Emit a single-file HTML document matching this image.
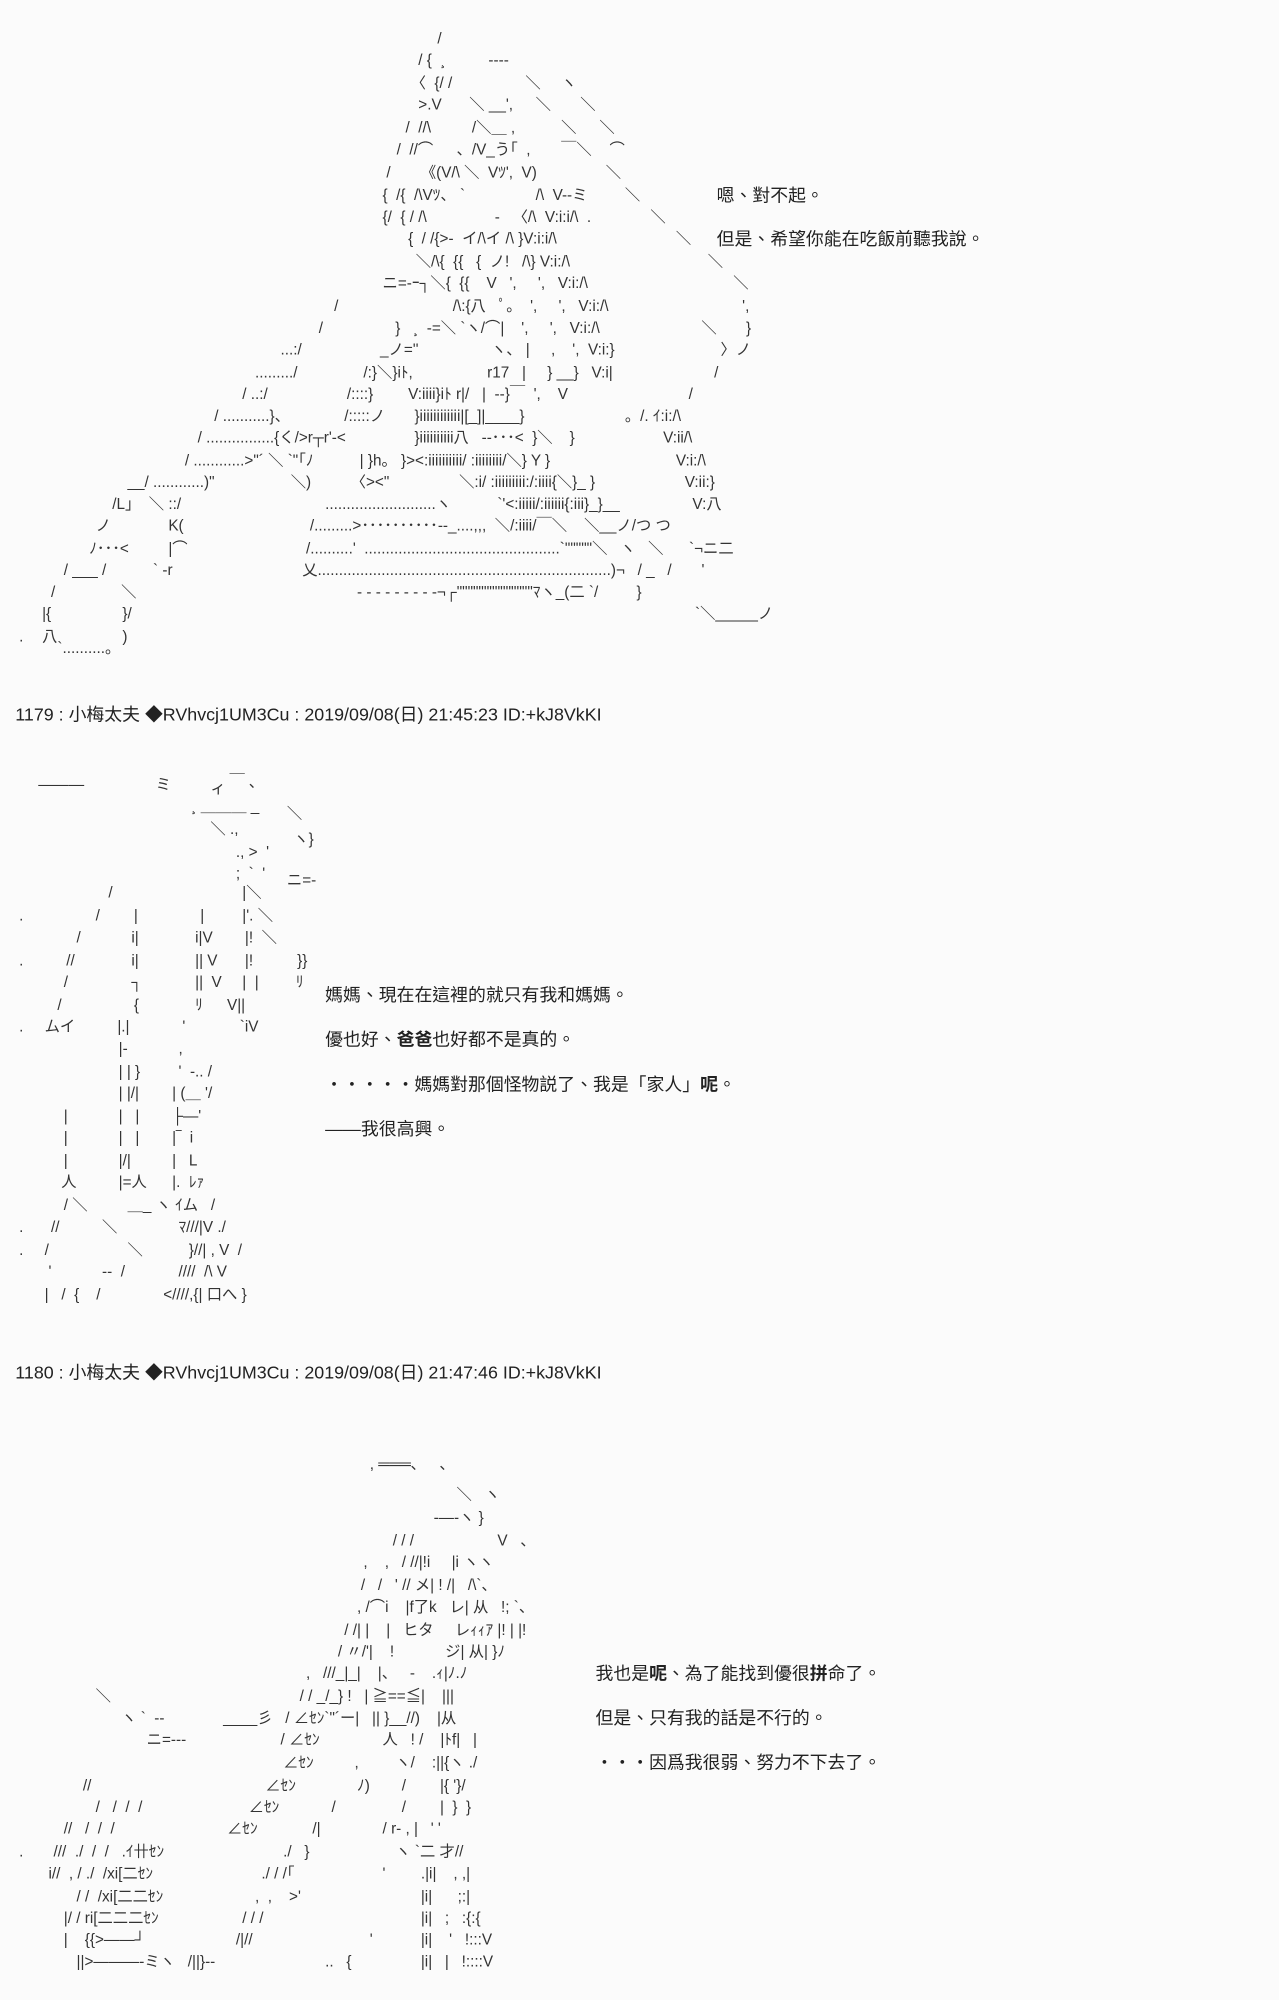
<!DOCTYPE html>
<html><head><meta charset="utf-8">
<style>
html,body{margin:0;padding:0;background:#fbfbfb;}
#w{position:relative;width:1003px;height:1568px;transform:scale(1.2752);transform-origin:0 0;overflow:hidden;}
#w i{position:absolute;font-style:normal;white-space:pre;font-family:"Liberation Sans","Noto Sans CJK JP",sans-serif;font-size:12px;line-height:16px;color:#333;}
#w b{position:absolute;font-weight:normal;white-space:pre;font-family:"Liberation Sans","Noto Sans CJK TC",sans-serif;font-size:14px;line-height:18px;color:#222;}
</style></head><body><div id="w">
<i style="left:343px;top:22px">/</i>
<i style="left:328px;top:39px">/ {  ¸</i><i style="left:383px;top:39px">----</i>
<i style="left:322px;top:57px">〈  {/ /</i><i style="left:412px;top:57px">＼</i><i style="left:440px;top:57px">ヽ</i>
<i style="left:328px;top:74px">&gt;.V</i><i style="left:368px;top:74px">＼ __',</i><i style="left:420px;top:74px">＼</i><i style="left:455px;top:74px">＼</i>
<i style="left:318px;top:92px">/  //\</i><i style="left:370px;top:92px">/＼＿ ,</i><i style="left:440px;top:92px">＼</i><i style="left:470px;top:92px">＼</i>
<i style="left:311px;top:109px">/  //⌒</i><i style="left:358px;top:109px">、/V_う｢  ,</i><i style="left:440px;top:109px">￣＼</i><i style="left:478px;top:109px">⌒</i>
<i style="left:303px;top:127px">/</i><i style="left:330px;top:127px">《(V/\ ＼  Vﾂ',  V)</i><i style="left:475px;top:127px">＼</i>
<i style="left:300px;top:145px">{  /{  /\Vﾂ、 `</i><i style="left:420px;top:145px">/\  V--ミ</i><i style="left:490px;top:145px">＼</i>
<i style="left:300px;top:162px">{/  { / /\</i><i style="left:388px;top:162px">-   〈/\  V:i:i/\  .</i><i style="left:510px;top:162px">＼</i>
<i style="left:320px;top:179px">{  / /{&gt;-  イ/\イ /\ }V:i:i/\</i><i style="left:530px;top:179px">＼</i>
<i style="left:326px;top:197px">＼/\{  {{   {  ノ!   /\} V:i:/\</i><i style="left:555px;top:197px">＼</i>
<i style="left:300px;top:214px">ニ=-ｰ┐＼{  {{    V   ',     ',   V:i:/\</i><i style="left:575px;top:214px">＼</i>
<i style="left:262px;top:232px">/</i><i style="left:355px;top:232px">/\:{八   ﾟ。  ',     ',   V:i:/\</i><i style="left:582px;top:232px">',</i>
<i style="left:250px;top:249px">/</i><i style="left:310px;top:249px">}   ¸  -=＼ `ヽ/⌒|    ',     ',   V:i:/\</i><i style="left:550px;top:249px">＼</i><i style="left:585px;top:249px">}</i>
<i style="left:220px;top:266px">...:/</i><i style="left:298px;top:266px">_ノ=''</i><i style="left:385px;top:266px">ヽ、 |     ,    ',  V:i:}</i><i style="left:565px;top:266px">〉ノ</i>
<i style="left:200px;top:284px">........./</i><i style="left:285px;top:284px">/:}＼}iﾄ,</i><i style="left:382px;top:284px">r17   |     } __}   V:i|</i><i style="left:560px;top:284px">/</i>
<i style="left:190px;top:301px">/ ..:/</i><i style="left:272px;top:301px">/::::}</i><i style="left:320px;top:301px">V:iiii}iﾄ r|/   |  --}￣  ',    V</i><i style="left:540px;top:301px">/</i>
<i style="left:168px;top:318px">/ ...........}、</i><i style="left:270px;top:318px">/:::::ノ</i><i style="left:325px;top:318px">}iiiiiiiiiiii|[_]|____}</i><i style="left:490px;top:318px">。/. ｲ:i:/\</i>
<i style="left:155px;top:335px">/ ................{く/&gt;r┬r'-&lt;</i><i style="left:325px;top:335px">}iiiiiiiiii八   --･･･&lt;  }＼    }</i><i style="left:520px;top:335px">V:ii/\</i>
<i style="left:145px;top:353px">/ ............&gt;"´ ＼ `"｢ﾉ</i><i style="left:282px;top:353px">| }h。 }&gt;&lt;:iiiiiiiiii/ :iiiiiiii/＼} Y }</i><i style="left:530px;top:353px">V:i:/\</i>
<i style="left:100px;top:370px">__/ ............)"</i><i style="left:228px;top:370px">＼)</i><i style="left:275px;top:370px">〈&gt;&lt;"</i><i style="left:360px;top:370px">＼:i/ :iiiiiiiii:/:iiii{＼}_ }</i><i style="left:537px;top:370px">V:ii:}</i>
<i style="left:88px;top:387px">/L」  ＼ ::/</i><i style="left:255px;top:387px">..........................ヽ</i><i style="left:390px;top:387px">`'&lt;:iiiii/:iiiiii{:iii}_}__</i><i style="left:543px;top:387px">V:八</i>
<i style="left:75px;top:404px">ノ</i><i style="left:132px;top:404px">K(</i><i style="left:243px;top:404px">/.........&gt;･･････････--_....,,,  ＼/:iiii/￣＼    ＼__ノ/つ つ</i>
<i style="left:70px;top:422px">ﾉ･･･&lt;</i><i style="left:132px;top:422px">|⌒</i><i style="left:240px;top:422px">/..........'  ..............................................`"""""＼   ヽ   ＼      `¬ニ二</i>
<i style="left:50px;top:439px">/ ___ /</i><i style="left:120px;top:439px">` -r</i><i style="left:237px;top:439px">乂.....................................................................)¬   / _   /       '</i>
<i style="left:40px;top:456px">/</i><i style="left:95px;top:456px">＼</i><i style="left:280px;top:456px">- - - - - - - - -¬┌""""""""""""""ﾏヽ_(二 `/         }</i>
<i style="left:33px;top:473px">|{</i><i style="left:96px;top:473px">}/</i><i style="left:545px;top:473px">`＼_____ノ</i>
<i style="left:15px;top:491px">.</i><i style="left:33px;top:491px">八</i><i style="left:96px;top:491px">)</i>
<i style="left:45px;top:500px">`..........。</i>
<b style="left:562px;top:144px">嗯、對不起。</b>
<b style="left:562px;top:178px">但是、希望你能在吃飯前聽我說。</b>
<b style="left:12px;top:551px">1179 : 小梅太夫 ◆RVhvcj1UM3Cu : 2019/09/08(日) 21:45:23 ID:+kJ8VkKI</b>

<i style="left:30px;top:607px">―――</i><i style="left:122px;top:607px">ミ</i><i style="left:165px;top:610px">ィ</i><i style="left:180px;top:605px">￣ ､</i>
<i style="left:150px;top:624px">¸ ＿＿＿ _</i><i style="left:225px;top:630px">＼</i>
<i style="left:165px;top:642px">＼ .,</i><i style="left:230px;top:650px">ヽ}</i>
<i style="left:185px;top:660px">., &gt;  '</i>
<i style="left:185px;top:677px">;  `  '</i><i style="left:225px;top:682px">ニ=-</i>
<i style="left:85px;top:692px">/</i><i style="left:190px;top:692px">|＼</i>
<i style="left:15px;top:710px">.</i><i style="left:75px;top:710px">/</i><i style="left:105px;top:710px">|</i><i style="left:157px;top:710px">|</i><i style="left:190px;top:710px">|'. ＼</i>
<i style="left:60px;top:727px">/</i><i style="left:103px;top:727px">i|</i><i style="left:153px;top:727px">i|V</i><i style="left:192px;top:727px">|!  ＼</i>
<i style="left:15px;top:745px">.</i><i style="left:52px;top:745px">//</i><i style="left:103px;top:745px">i|</i><i style="left:153px;top:745px">|| V</i><i style="left:192px;top:745px">|!</i><i style="left:233px;top:745px">}}</i>
<i style="left:50px;top:762px">/</i><i style="left:103px;top:762px">┐</i><i style="left:153px;top:762px">||  V</i><i style="left:190px;top:762px">|  |</i><i style="left:232px;top:762px">ﾘ</i>
<i style="left:45px;top:780px">/</i><i style="left:105px;top:780px">{</i><i style="left:153px;top:780px">ﾘ</i><i style="left:178px;top:780px">V||</i>
<i style="left:15px;top:797px">.</i><i style="left:35px;top:797px">ムイ</i><i style="left:92px;top:797px">|.|</i><i style="left:143px;top:797px">'</i><i style="left:188px;top:797px">`iV</i>
<i style="left:93px;top:814px">|‐</i><i style="left:140px;top:814px">,</i>
<i style="left:93px;top:832px">| | }</i><i style="left:140px;top:832px">'  -.. /</i>
<i style="left:93px;top:849px">| |/|</i><i style="left:135px;top:849px">| (＿ '/</i>
<i style="left:50px;top:867px">|</i><i style="left:93px;top:867px">|   |</i><i style="left:135px;top:867px">├―'</i>
<i style="left:50px;top:884px">|</i><i style="left:93px;top:884px">|   |</i><i style="left:135px;top:884px">|‾  i</i>
<i style="left:50px;top:902px">|</i><i style="left:93px;top:902px">|/|</i><i style="left:135px;top:902px">|   L</i>
<i style="left:48px;top:919px">人</i><i style="left:93px;top:919px">|=人</i><i style="left:135px;top:919px">|.  ﾚｧ</i>
<i style="left:50px;top:937px">/ ＼</i><i style="left:100px;top:937px">＿_ ヽ ｲム   /</i>
<i style="left:15px;top:954px">.</i><i style="left:40px;top:954px">//</i><i style="left:80px;top:954px">＼</i><i style="left:140px;top:954px">ﾏ///|V ./</i>
<i style="left:15px;top:972px">.</i><i style="left:35px;top:972px">/</i><i style="left:100px;top:972px">＼</i><i style="left:148px;top:972px">}//| , V  /</i>
<i style="left:38px;top:989px">'</i><i style="left:80px;top:989px">--  /</i><i style="left:140px;top:989px">////  /\ V</i>
<i style="left:35px;top:1007px">|   /  {    /</i><i style="left:128px;top:1007px">&lt;////,{| 口へ }</i>
<b style="left:255px;top:771px">媽媽、現在在這裡的就只有我和媽媽。</b>
<b style="left:255px;top:806px">優也好、<span style="font-weight:bold">爸爸</span>也好都不是真的。</b>
<b style="left:255px;top:841px">・・・・・媽媽對那個怪物説了、我是「家人」<span style="font-weight:bold">呢</span>。</b>
<b style="left:255px;top:876px">――我很高興。</b>
<b style="left:12px;top:1067px">1180 : 小梅太夫 ◆RVhvcj1UM3Cu : 2019/09/08(日) 21:47:46 ID:+kJ8VkKI</b>

<i style="left:290px;top:1140px">, ═══､     ､</i>
<i style="left:358px;top:1164px">＼   ヽ</i>
<i style="left:340px;top:1182px">-―-ヽ }</i>
<i style="left:308px;top:1200px">/ / /</i><i style="left:390px;top:1200px">V   、</i>
<i style="left:285px;top:1217px">,    ,   / //|!i     |i ヽヽ</i>
<i style="left:283px;top:1235px">/   /   ' // メ| ! /|   /\`、</i>
<i style="left:280px;top:1252px">, /⌒i    |f了k   レ| 从   !; `、</i>
<i style="left:270px;top:1270px">/ /| |    |   ヒタ     レｨｨｱ |! | |!</i>
<i style="left:265px;top:1287px">/ 〃/'|    !            ジ| 从| }ﾉ</i>
<i style="left:240px;top:1304px">,   ///_|_|    |、   -    .ｨ|ﾉ.ﾉ</i>
<i style="left:75px;top:1322px">＼</i><i style="left:235px;top:1322px">/ / _/_} !   | ≧==≦|    |||</i>
<i style="left:95px;top:1339px">ヽ `  --</i><i style="left:175px;top:1339px">____彡   / ∠ｾﾝ`"´ー|   || }__//)    |从</i>
<i style="left:115px;top:1356px">ニ=---</i><i style="left:220px;top:1356px">/ ∠ｾﾝ</i><i style="left:300px;top:1356px">人   ! /    |ﾄf|   |</i>
<i style="left:222px;top:1374px">∠ｾﾝ</i><i style="left:278px;top:1374px">,</i><i style="left:310px;top:1374px">ヽ/    :||{ヽ ./</i>
<i style="left:65px;top:1392px">//</i><i style="left:208px;top:1392px">∠ｾﾝ</i><i style="left:280px;top:1392px">ﾉ)</i><i style="left:315px;top:1392px">/</i><i style="left:345px;top:1392px">|{ '}/</i>
<i style="left:75px;top:1409px">/   /  /  /</i><i style="left:195px;top:1409px">∠ｾﾝ</i><i style="left:260px;top:1409px">/</i><i style="left:315px;top:1409px">/</i><i style="left:345px;top:1409px">|  }  }</i>
<i style="left:50px;top:1426px">//   /  /  /</i><i style="left:178px;top:1426px">∠ｾﾝ</i><i style="left:245px;top:1426px">/|</i><i style="left:300px;top:1426px">/ r‐ , |   ' '</i>
<i style="left:15px;top:1444px">.</i><i style="left:42px;top:1444px">///  ./  /  /   .ｲ卄ｾﾝ</i><i style="left:222px;top:1444px">./   }</i><i style="left:310px;top:1444px">ヽ `二 才//</i>
<i style="left:38px;top:1461px">i//  , / ./  /xi[二ｾﾝ</i><i style="left:205px;top:1461px">./ / /｢</i><i style="left:300px;top:1461px">'</i><i style="left:330px;top:1461px">.|i|    , ,|</i>
<i style="left:60px;top:1479px">/ /  /xi[二二ｾﾝ</i><i style="left:200px;top:1479px">,  ,    &gt;'</i><i style="left:330px;top:1479px">|i|      ;:|</i>
<i style="left:50px;top:1496px">|/ / ri[二二二ｾﾝ</i><i style="left:190px;top:1496px">/ / /</i><i style="left:330px;top:1496px">|i|   ;   :{:{</i>
<i style="left:50px;top:1513px">|    {{&gt;――┘</i><i style="left:185px;top:1513px">/|//</i><i style="left:290px;top:1513px">'</i><i style="left:330px;top:1513px">|i|    '   !:::V</i>
<i style="left:60px;top:1530px">||&gt;―――-ミヽ   /||}--</i><i style="left:255px;top:1530px">..   {</i><i style="left:330px;top:1530px">|i|   |   !::::V</i>
<b style="left:467px;top:1303px">我也是<span style="font-weight:bold">呢</span>、為了能找到優很<span style="font-weight:bold">拼</span>命了。</b>
<b style="left:467px;top:1338px">但是、只有我的話是不行的。</b>
<b style="left:467px;top:1373px">・・・因爲我很弱、努力不下去了。</b>
</div></body></html>
